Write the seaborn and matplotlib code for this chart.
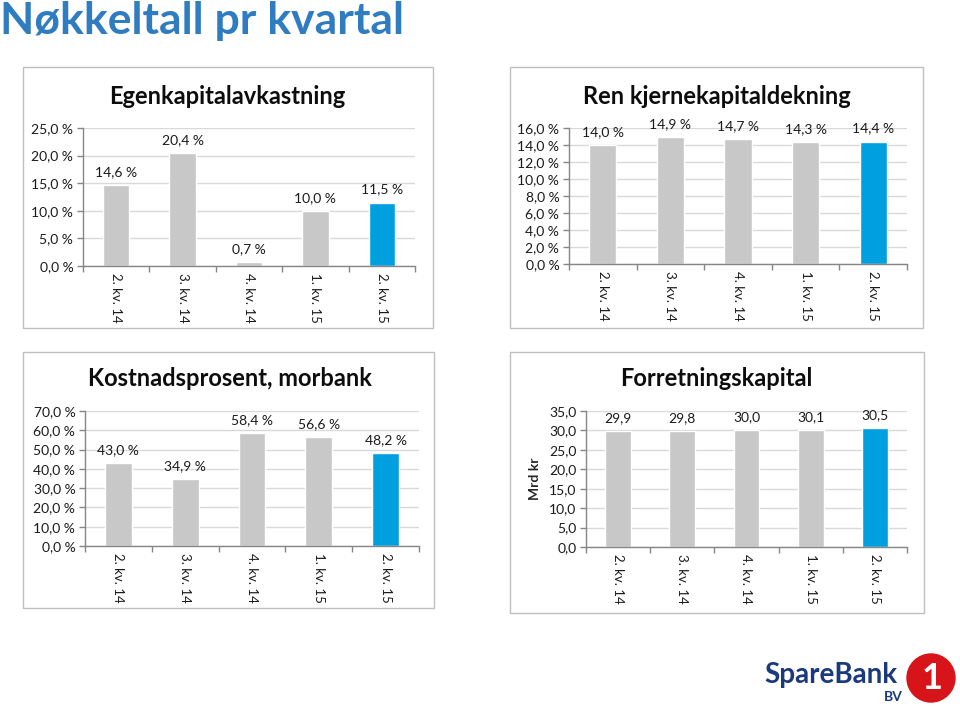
import matplotlib
matplotlib.use("Agg")
import matplotlib.pyplot as plt
import seaborn as sns
import pandas as pd
from matplotlib.patches import Rectangle, Circle
from matplotlib.ticker import FuncFormatter, FixedLocator, NullFormatter

sns.set_theme(style="white")
plt.rcParams['font.family'] = ['Lato', 'DejaVu Sans']

quarters = ["2. kv. 14", "3. kv. 14", "4. kv. 14", "1. kv. 15", "2. kv. 15"]
egenkapitalavkastning = [14.6, 20.4, 0.7, 10.0, 11.5]
kjernekapitaldekning = [14.0, 14.9, 14.7, 14.3, 14.4]
kostnadsprosent = [43.0, 34.9, 58.4, 56.6, 48.2]
forretningskapital = [29.9, 29.8, 30.0, 30.1, 30.5]

GREY = "#C8C8C8"
BLUE = "#009FE0"
palette = [GREY, GREY, GREY, GREY, BLUE]

W, H = 960, 708
fig = plt.figure(figsize=(W / 100, H / 100), dpi=100)
fig.patch.set_facecolor("white")


def px_axes(x0, y0, x1, y1):
    return fig.add_axes([x0 / W, 1 - y1 / H, (x1 - x0) / W, (y1 - y0) / H])


def frame(x0, y0, x1, y1):
    fig.patches.append(Rectangle((x0 / W, 1 - y1 / H), (x1 - x0) / W, (y1 - y0) / H,
                                 transform=fig.transFigure, fill=False,
                                 edgecolor="#BFBFBF", linewidth=1.0, zorder=0))


def panel(box, axbox, title, title_xy, values, ymax, ystep, fmt, lblfmt, ylabel=None):
    frame(*box)
    ax = px_axes(*axbox)
    df = pd.DataFrame({"q": quarters, "v": values})
    sns.barplot(data=df, x="q", y="v", hue="q", palette=palette, legend=False,
                width=0.4, ax=ax, saturation=1, order=quarters)
    ax.set_ylim(0, ymax)
    ax.set_xlim(-0.5, len(quarters) - 0.5)
    yt = [i * ystep for i in range(int(round(ymax / ystep)) + 1)]
    ax.set_yticks(yt)
    ax.yaxis.set_major_formatter(FuncFormatter(lambda v, p: fmt(v)))
    ax.grid(axis="y", color="#D9D9D9", linewidth=1.0)
    ax.set_axisbelow(True)
    for s in ["top", "right"]:
        ax.spines[s].set_visible(False)
    for s in ["left", "bottom"]:
        ax.spines[s].set_color("#868686")
        ax.spines[s].set_linewidth(1.0)
    ax.tick_params(axis="y", which="major", left=True, length=4, width=1, color="#868686",
                   labelsize=10, pad=3, labelcolor="#1a1a1a")
    ax.set_xticks(range(len(quarters)))
    ax.set_xticklabels(quarters, rotation=-90, fontsize=9.5, color="#1a1a1a")
    ax.tick_params(axis="x", which="major", length=0, pad=5)
    ax.xaxis.set_minor_locator(FixedLocator([i - 0.5 for i in range(len(quarters) + 1)]))
    ax.xaxis.set_minor_formatter(NullFormatter())
    ax.tick_params(axis="x", which="minor", bottom=True, length=4, width=1, color="#868686")
    ax.set_xlabel("")
    if ylabel:
        ax.set_ylabel(ylabel, fontsize=10, fontweight="bold", labelpad=6)
    else:
        ax.set_ylabel("")
    for i, v in enumerate(values):
        ax.annotate(lblfmt(v), (i, v), xytext=(0, 5), textcoords="offset points",
                    ha="center", va="bottom", fontsize=10, color="#1a1a1a",
                    annotation_clip=False)
    fig.text(title_xy[0] / W, 1 - title_xy[1] / H, title, ha="center", va="center",
             fontsize=17, fontweight="bold", color="#0d0d0d")
    return ax


pct = lambda v: f"{v:.1f} %".replace(".", ",")
num = lambda v: f"{v:.1f}".replace(".", ",")

panel((23, 67, 433, 328), (83, 128, 415, 266), "Egenkapitalavkastning", (227, 97),
      egenkapitalavkastning, 25, 5, pct, pct)
panel((510, 67, 923, 328), (569, 128, 907, 264), "Ren kjernekapitaldekning", (717, 97),
      kjernekapitaldekning, 16, 2, pct, pct)
panel((23, 352, 434, 608), (85, 411, 419, 546), "Kostnadsprosent, morbank", (230, 378),
      kostnadsprosent, 70, 10, pct, pct)
panel((510, 352, 924, 613), (586, 411, 907, 547), "Forretningskapital", (716, 378),
      forretningskapital, 35, 5, num, num, ylabel="Mrd kr")

fig.text(0 / W, 1 - 21 / H, "Nøkkeltall pr kvartal", ha="left", va="center",
         fontsize=32, fontweight="bold", color="#2F7CC0")

# logo
lax = px_axes(740, 640, 960, 708)
lax.set_xlim(740, 960)
lax.set_ylim(708, 640)
lax.set_aspect("equal")
lax.axis("off")
lax.text(764, 675, "SpareBank", fontsize=20, fontweight="bold", color="#1B3A7D",
         ha="left", va="center")
lax.text(903, 697, "BV", fontsize=10, fontweight="bold", color="#1B3A7D", ha="right", va="center")
lax.add_patch(Circle((931, 678), 24, color="#D7141A"))
lax.text(932, 679, "1", fontsize=26, fontweight="bold", color="white", ha="center", va="center")

fig.savefig("out.png", dpi=100, facecolor="white")
